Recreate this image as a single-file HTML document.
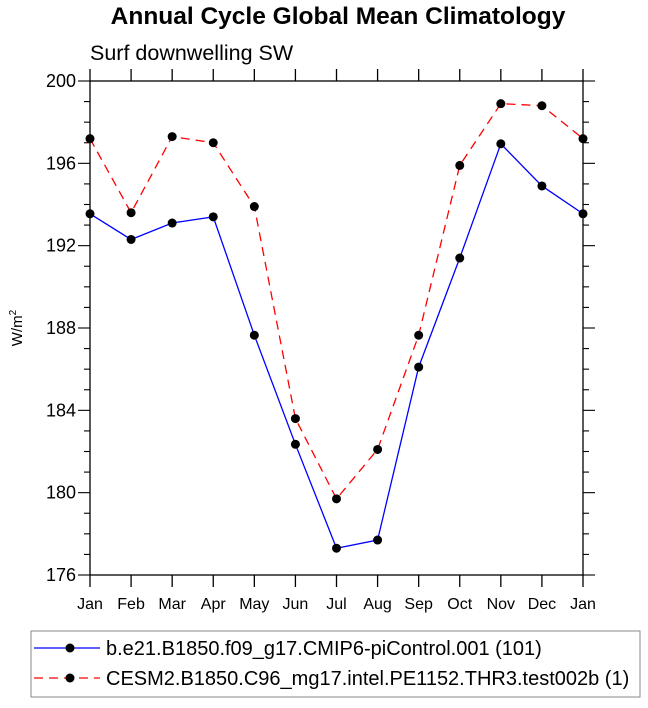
<!DOCTYPE html>
<html><head><meta charset="utf-8"><style>
body{margin:0;background:#fff;font-family:"Liberation Sans",sans-serif}
svg text{font-family:"Liberation Sans",sans-serif}
</style></head><body>
<svg id="chart" width="648" height="703" xmlns="http://www.w3.org/2000/svg">
<text x="338" y="24" font-size="24.5" font-weight="bold" text-anchor="middle">Annual Cycle Global Mean Climatology</text>
<text x="90" y="60" font-size="21.5">Surf downwelling SW</text>
<text transform="translate(22,328) rotate(-90)" font-size="15" text-anchor="middle">W/m<tspan font-size="10" dy="-6">2</tspan></text>
<g id="axes"></g>
<g id="series"></g>
<g>
<rect x="31" y="631" width="609" height="66" fill="none" stroke="#888" stroke-width="1"/>
<g>
<line x1="34" y1="648" x2="100" y2="648" stroke="#0000ff" stroke-width="1.3"/>
<circle cx="70" cy="648" r="4.5" fill="#000"/>
<text x="106" y="655" font-size="20">b.e21.B1850.f09_g17.CMIP6-piControl.001 (101)</text>
</g>
<g>
<line x1="34" y1="678" x2="100" y2="678" stroke="#ff0000" stroke-width="1.3" stroke-dasharray="9,6"/>
<circle cx="70" cy="678" r="4.5" fill="#000"/>
<text x="106" y="685" font-size="20">CESM2.B1850.C96_mg17.intel.PE1152.THR3.test002b (1)</text>
</g>
</g>
</svg>
<script>
const months = ["Jan","Feb","Mar","Apr","May","Jun","Jul","Aug","Sep","Oct","Nov","Dec","Jan"];
const controlValues = [193.55,192.3,193.1,193.4,187.65,182.35,177.3,177.7,186.1,191.4,196.95,194.9,193.55];
const testValues = [197.2,193.6,197.3,197.0,193.9,183.6,179.7,182.1,187.65,195.9,198.9,198.8,197.2];
const yTicks = [176,180,184,188,192,196,200];

const X0=90,X1=583,Y0=575,Y1=81,YMIN=176,YMAX=200;
const NS="http://www.w3.org/2000/svg";
function xs(i){return X0+(X1-X0)*i/(months.length-1);}
function ys(v){return Y0-(Y0-Y1)*(v-YMIN)/(YMAX-YMIN);}
function mk(tag,attrs,parent){const e=document.createElementNS(NS,tag);for(const k in attrs)e.setAttribute(k,attrs[k]);parent.appendChild(e);return e;}
const ax=document.getElementById('axes');
const fr=mk('rect',{x:X0,y:Y1,width:X1-X0,height:Y0-Y1,fill:'none',stroke:'#000','stroke-width':1.3},ax);


months.forEach((m,i)=>{
  const x=xs(i);
  mk('line',{x1:x,y1:Y0,x2:x,y2:Y0+12,stroke:'#000','stroke-width':1.3},ax);
  mk('line',{x1:x,y1:Y1,x2:x,y2:Y1-12,stroke:'#000','stroke-width':1.3},ax);
  const t=mk('text',{x:x,y:Y0+34,'font-size':16,'text-anchor':'middle'},ax);
  t.textContent=m;
  
  
});
for(let v=YMIN;v<=YMAX;v++){
  const y=ys(v);const major=yTicks.includes(v);const L=major?12:6;
  mk('line',{x1:X0-L,y1:y,x2:X0,y2:y,stroke:'#000','stroke-width':1.1},ax);
  mk('line',{x1:X1,y1:y,x2:X1+L,y2:y,stroke:'#000','stroke-width':1.1},ax);
}
yTicks.forEach(v=>{
  const t=mk('text',{x:X0-14,y:ys(v)+6,'font-size':18,'text-anchor':'end'},ax);
  t.textContent=v;
  
  
});
const sg=document.getElementById('series');
function drawSeries(vals,color,dash,name){
  const g=mk('g',{},sg);
  
  
  const p=mk('polyline',{points:vals.map((v,i)=>xs(i)+','+ys(v)).join(' '),fill:'none',stroke:color,'stroke-width':1.3},g);
  if(dash)p.setAttribute('stroke-dasharray',dash);
  
  
  vals.forEach((v,i)=>{
    const c=mk('circle',{cx:xs(i),cy:ys(v),r:4.5,fill:'#000'},g);
    
    
  });
}
drawSeries(controlValues,'#0000ff',null,'control-series');
drawSeries(testValues,'#ff0000','9,6','test-series');
</script>
</body></html>
